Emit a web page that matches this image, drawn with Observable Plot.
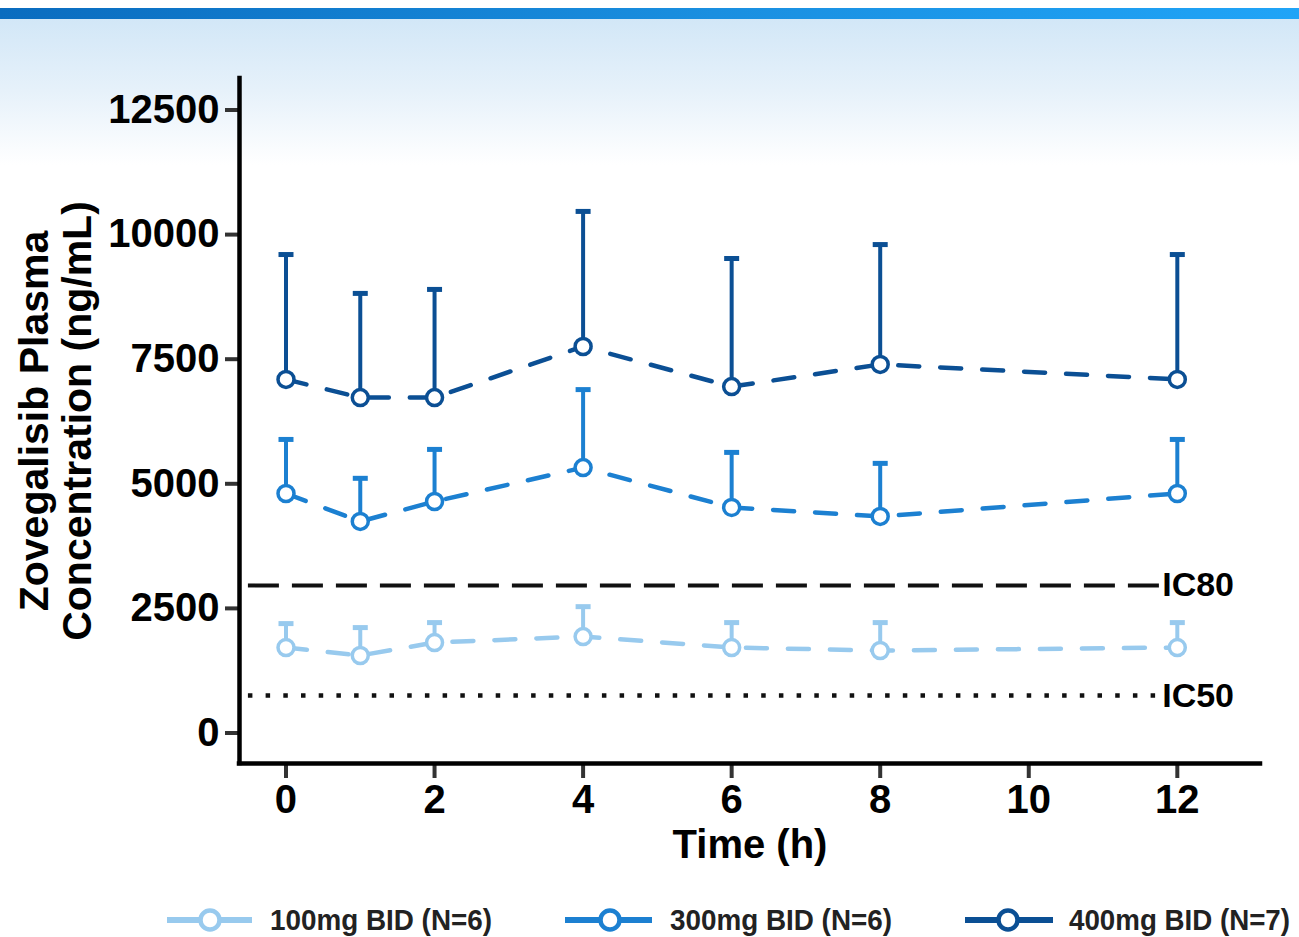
<!DOCTYPE html>
<html>
<head>
<meta charset="utf-8">
<script src="https://cdn.jsdelivr.net/npm/d3@7"></script>
<script src="https://cdn.jsdelivr.net/npm/@observablehq/plot@0.6"></script>
<style>
  html, body { margin: 0; padding: 0; }
  body {
    width: 1299px; height: 937px; overflow: hidden; position: relative;
    background: linear-gradient(to bottom, #ffffff 0px, #ffffff 8px, #d2e7f7 19px, #e6f1fa 90px, #ffffff 165px, #ffffff 937px);
    font-family: "Liberation Sans", Arial, sans-serif;
  }
  #topbar { position: absolute; left: 0; top: 8px; width: 1299px; height: 11px;
    background: linear-gradient(to right, #0a6cbf, #1a8fe0 55%, #20a4f7); }
  #chart { position: absolute; left: 0; top: 0; }
  #legend { position: absolute; left: 0; top: 880px; }
</style>
</head>
<body>
<div id="topbar"></div>
<div id="chart"></div>
<div id="legend"></div>
<script>
// ---- data ----
const times = [0, 1, 2, 4, 6, 8, 12];
const mean100 = [1715, 1555, 1815, 1935, 1715, 1655, 1715];
const sd100   = [480, 560, 400, 600, 500, 560, 500];
const mean300 = [4805, 4245, 4645, 5325, 4525, 4345, 4805];
const sd300   = [1085, 865, 1045, 1565, 1105, 1065, 1085];
const mean400 = [7095, 6730, 6730, 7755, 6950, 7395, 7095];
const sd400   = [2505, 2090, 2170, 2710, 2570, 2405, 2505];
const seriesNames = ["100mg BID (N=6)", "300mg BID (N=6)", "400mg BID (N=7)"];
const seriesColors = ["#98caee", "#1c80d1", "#0b4f94"];
const icNames = ["IC80", "IC50"];
const icValues = [2960, 750];
const xTicks = [0, 2, 4, 6, 8, 10, 12];
const yTicks = [0, 2500, 5000, 7500, 10000, 12500];
const yTitle = "Zovegalisib Plasma\nConcentration (ng/mL)";
const xTitle = "Time (h)";

// ---- build table ----
const means = [mean100, mean300, mean400];
const sds = [sd100, sd300, sd400];
const rows = [];
seriesNames.forEach((s, i) => times.forEach((t, j) => {
  rows.push({series: s, color: seriesColors[i], time: t, mean: means[i][j], top: means[i][j] + sds[i][j]});
}));

const xDomain = [-0.626, 13.12];
const yDomain = [-612, 13132];
const capSymbol = { draw(ctx) { ctx.moveTo(-7.5, 0); ctx.lineTo(7.5, 0); } };
const lineStart = xDomain[0] + 0.12;
const lineEnd = 11.81;

const plot = Plot.plot({
  width: 1299,
  height: 880,
  marginLeft: 239,
  marginRight: 39,
  marginTop: 78,
  marginBottom: 117,
  style: { background: "transparent", fontFamily: "'Liberation Sans', Arial, sans-serif", fontWeight: "bold", color: "#000" },
  x: { domain: xDomain },
  y: { domain: yDomain },
  marks: [
    // reference lines
    Plot.ruleY([icValues[0]], { x1: lineStart, x2: lineEnd, stroke: "#111", strokeWidth: 4, strokeDasharray: "31,13" }),
    Plot.ruleY([icValues[1]], { x1: lineStart, x2: lineEnd, stroke: "#111", strokeWidth: 4.5, strokeDasharray: "4.5,13.2" }),
    Plot.text(icNames.map((n, i) => ({n, v: icValues[i]})), { x: lineEnd, y: "v", text: "n", textAnchor: "start", fontSize: 34, fontWeight: "bold", fill: "#000", dx: -1 }),
    // error bars
    Plot.ruleX(rows, { x: "time", y1: "mean", y2: "top", stroke: "color", strokeWidth: 4 }),
    Plot.dot(rows, { x: "time", y: "top", symbol: capSymbol, stroke: "color", strokeWidth: 5, fill: "none" }),
    // lines
    Plot.line(rows, { x: "time", y: "mean", z: "series", stroke: "color", strokeWidth: 4.5, strokeDasharray: "21,21" }),
    Plot.dot(rows, { x: "time", y: "mean", r: 8, stroke: "color", strokeWidth: 3.5, fill: "white" }),
    // axes
    Plot.axisY({ ticks: yTicks, tickSize: 14, tickPadding: 6, fontSize: 40, fontWeight: "bold", stroke: "#333", strokeWidth: 4, tickFormat: d => `${d}`, label: null }),
    Plot.axisX({ ticks: xTicks, tickSize: 15, tickPadding: 6, fontSize: 40, fontWeight: "bold", stroke: "#333", strokeWidth: 4, tickFormat: d => `${d}`, label: null }),
    Plot.ruleX([xDomain[0]], { stroke: "#000", strokeWidth: 4.5, strokeLinecap: "square" }),
    Plot.ruleY([yDomain[0]], { stroke: "#000", strokeWidth: 4.5, strokeLinecap: "square" }),
    // titles
    Plot.text([yTitle], { frameAnchor: "left", textAnchor: "middle", lineAnchor: "middle", dx: -184, rotate: -90, fontSize: 41, fontWeight: "bold", lineHeight: 1.07, fill: "#000" }),
    Plot.text([xTitle], { frameAnchor: "bottom", lineAnchor: "middle", dy: 82, fontSize: 40, fontWeight: "bold", fill: "#000" })
  ]
});
document.getElementById("chart").appendChild(plot);

// ---- legend ----
const legendItems = [
  { lx1: 167, lx2: 252, cx: 210, tx: 270, tw: 222 },
  { lx1: 565, lx2: 652, cx: 610, tx: 670, tw: 222 },
  { lx1: 965, lx2: 1053, cx: 1008, tx: 1069, tw: 221 }
];
const ns = "http://www.w3.org/2000/svg";
const lsvg = document.createElementNS(ns, "svg");
lsvg.setAttribute("width", 1299);
lsvg.setAttribute("height", 57);
seriesNames.forEach((name, i) => {
  const it = legendItems[i];
  const ln = document.createElementNS(ns, "line");
  ln.setAttribute("x1", it.lx1); ln.setAttribute("x2", it.lx2);
  ln.setAttribute("y1", 40); ln.setAttribute("y2", 40);
  ln.setAttribute("stroke", seriesColors[i]); ln.setAttribute("stroke-width", 6);
  lsvg.appendChild(ln);
  const c = document.createElementNS(ns, "circle");
  c.setAttribute("cx", it.cx); c.setAttribute("cy", 40); c.setAttribute("r", 9.5);
  c.setAttribute("fill", "white"); c.setAttribute("stroke", seriesColors[i]); c.setAttribute("stroke-width", 4.5);
  lsvg.appendChild(c);
  const t = document.createElementNS(ns, "text");
  t.setAttribute("x", it.tx); t.setAttribute("y", 50);
  t.setAttribute("font-family", "'Liberation Sans Narrow', 'Arial Narrow', 'Liberation Sans', Arial, sans-serif");
  t.setAttribute("font-weight", "bold");
  t.setAttribute("font-size", 29);
  t.setAttribute("fill", "#222");
  t.setAttribute("textLength", it.tw);
  t.setAttribute("lengthAdjust", "spacingAndGlyphs");
  t.textContent = name;
  lsvg.appendChild(t);
});
document.getElementById("legend").appendChild(lsvg);
</script>
</body>
</html>
